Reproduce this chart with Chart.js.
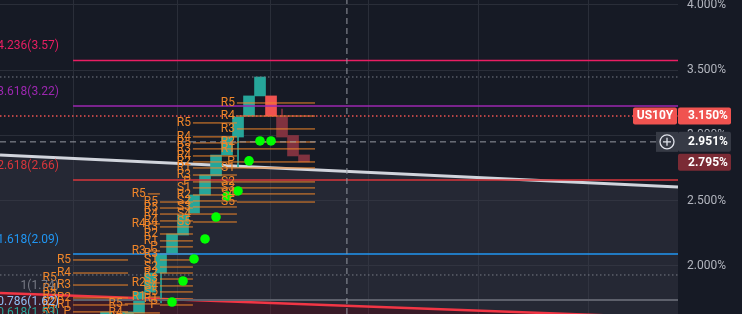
<!DOCTYPE html>
<html>
<head>
<meta charset="utf-8">
<script src="https://cdn.jsdelivr.net/npm/chart.js@4.4.1/dist/chart.umd.min.js"></script>
<style>
  html, body { margin: 0; padding: 0; background: #161a25; }
  #wrap { width: 742px; height: 314px; position: relative; }
</style>
</head>
<body>
<div id="wrap"><canvas id="chart"></canvas></div>
<script>
// bricks, x = bar number, values in %
const candleIndex = [0, 1, 2, 3, 4, 5, 6, 7, 8, 9, 10, 11, 12, 13, 14, 15, 16, 17, 18];
const candleOpen = [1.5, 1.47, 1.5, 1.64, 1.8, 1.946, 2.1, 2.237, 2.406, 2.544, 2.69, 2.85, 2.988, 3.149, 3.303, 3.303, 3.142, 3.0, 2.851];
const candleClose = [1.647, 1.62, 1.648, 1.8, 1.946, 2.092, 2.245, 2.39, 2.544, 2.697, 2.85, 2.988, 3.142, 3.303, 3.448, 3.149, 2.988, 2.843, 2.797];
const candleKind = ['up', 'up', 'up', 'up', 'up', 'up', 'up', 'up', 'up', 'up', 'up', 'up', 'up', 'up', 'up', 'down', 'fade', 'fade', 'fade'];

const wickIndex = [5, 12, 16];
const wickLow = [1.716, 2.759, 3.142];
const wickHigh = [1.946, 2.988, 3.203];

const dotIndex = [6, 7, 8, 9, 10, 11, 12, 13, 14, 15];
const dotValues = [1.724, 1.885, 2.054, 2.207, 2.375, 2.536, 2.575, 2.805, 2.958, 2.958];

const fibLabels = ['4.236(3.57)', '3.618(3.22)', '2.618(2.66)', '1.618(2.09)', '1(1.74)', '0.786(1.62)', '0.618(1.53)'];
const fibPrices = [3.575, 3.225, 2.659, 2.092, 1.739, 1.62, 1.53];
const fibColors = ['#e91e63', '#9c27b0', '#d8363c', '#2196f3', '#5d606b', '#8fc1f5', '#26a69a'];
const fibStart = -3;

const pivotNames = ['R5', 'R4', 'R3', 'R2', 'R1', 'P', 'S1', 'S2', 'S3', 'S4', 'S5'];
const pivotStart = [11.9, 7.9, 7.9, 4.9, 4.9, 3.8, -3.0, -4.3, 1.7];
const pivotEnd = [19.0, 11.9, 11.9, 7.9, 7.9, 4.9, 2.0, -4.3, 4.9];
const pivotLevels = [
  [3.249, 3.149, 3.05, 2.95, 2.897, 2.797, 2.751, 2.644, 2.598, 2.552, 2.49],
  [3.096, 2.989, 2.897, 2.797, 2.751, 2.644, 2.598, 2.498, 2.452, 2.398, 2.337],
  [2.943, 2.843, 2.697, 2.544],
  [2.49, 2.398, 2.299, 2.245, 2.192, 2.146, 2.046, 1.992, 1.9, 1.847, 1.801],
  [2.444, 2.345, 2.092, 1.946, 1.747, 1.701],
  [2.552, 2.322, 2.115, 1.87, 1.762],
  [2.046, 1.946, 1.854, 1.755, 1.701, 1.648],
  [1.908, 1.824, 1.77, 1.716, 1.663],
  [1.709, 1.64],
];

const trendUpper = [2.851, 2.605];
const trendLower = [1.793, 1.6015];
const highMark = 3.448;
const lowMark = 1.931;
const lastPrice = 3.15;
const cursorPrice = 2.951;
const projPrice = 2.795;
const cursorBar = 21.9;

const yTicks = [2.0, 2.5, 3.0, 3.5, 4.0];
const timeGrid = [-8, 2, 11, 18.9, 28.9, 38.9, 48.9];
const xMin = -9.64;
const xMax = 52;
const yMin = 1.632;
const yMax = 4.038;

const kindColor = { up: '#26a69a', down: '#ef5350', fade: '#80323f' };
const pivotColor = '#f0862a';

function hLine(from, to, value, color, width, dash, order) {
  return {
    type: 'line',
    data: [{ x: from, y: value }, { x: to, y: value }],
    borderColor: color,
    borderWidth: width,
    borderDash: dash || [],
    pointRadius: 0,
    fill: false,
    order,
  };
}

const datasets = [];

datasets.push({
  type: 'line',
  data: [{ x: xMin, y: trendUpper[0] }, { x: xMax, y: trendUpper[1] }],
  borderColor: '#d1d4dc',
  borderWidth: 3,
  pointRadius: 0,
  fill: '+1',
  backgroundColor: 'rgba(60, 62, 74, 0.4)',
  order: 50,
});
datasets.push({
  type: 'line',
  data: [{ x: xMin, y: trendLower[0] }, { x: xMax, y: trendLower[1] }],
  borderColor: '#f23645',
  borderWidth: 2.5,
  pointRadius: 0,
  fill: 'start',
  backgroundColor: 'rgba(130, 30, 50, 0.33)',
  order: 49,
});

datasets.push({
  type: 'bar',
  data: candleIndex.map((k, i) => ({ x: k, y: [candleOpen[i], candleClose[i]] })),
  backgroundColor: candleKind.map((k) => kindColor[k]),
  barThickness: 11,
  grouped: false,
  order: 40,
});
datasets.push({
  type: 'bar',
  data: wickIndex.map((k, i) => ({ x: k, y: [wickLow[i], wickHigh[i]] })),
  backgroundColor: wickIndex.map((k) => kindColor[candleKind[k]]),
  barThickness: 1,
  grouped: false,
  order: 41,
});

pivotLevels.forEach((levels, g) => {
  levels.forEach((v) => {
    datasets.push(hLine(pivotStart[g], pivotEnd[g], v, pivotColor, 1, null, 30));
  });
});

fibPrices.forEach((v, i) => {
  datasets.push(hLine(fibStart, xMax, v, fibColors[i], i === 4 ? 2 : 1.5, null, 20));
});

datasets.push(hLine(xMin, xMax, highMark, '#787b86', 1, [1.5, 2.5], 15));
datasets.push(hLine(xMin, xMax, lowMark, '#787b86', 1, [1.5, 2.5], 15));
datasets.push(hLine(xMin, xMax, lastPrice, '#f05350', 1.5, [1.5, 2.5], 15));
datasets.push(hLine(xMin, xMax, cursorPrice, '#9598a1', 1, [6, 4], 15));
datasets.push({
  type: 'line',
  data: [{ x: cursorBar, y: yMin }, { x: cursorBar, y: yMax }],
  borderColor: '#9598a1',
  borderWidth: 1,
  borderDash: [6, 4],
  pointRadius: 0,
  order: 15,
});

datasets.push({
  type: 'line',
  data: dotIndex.map((k, i) => ({ x: k, y: dotValues[i] })),
  showLine: false,
  pointRadius: 4.8,
  pointBackgroundColor: '#00ff00',
  pointBorderWidth: 0,
  order: 10,
});

function tag(ctx, x0, w, yc, h, bg, text, align) {
  ctx.fillStyle = bg;
  ctx.beginPath();
  ctx.roundRect(x0, yc - h / 2, w, h, 2);
  ctx.fill();
  ctx.fillStyle = '#ffffff';
  ctx.font = 'bold 12px Roboto';
  ctx.textBaseline = 'middle';
  ctx.textAlign = align;
  ctx.fillText(text, align === 'center' ? x0 + w / 2 : x0 + 10, yc + 0.5);
}

const overlay = {
  id: 'overlay',
  afterDatasetsDraw(chart) {
    const { ctx, scales: { x, y } } = chart;
    ctx.save();
    ctx.textAlign = 'right';
    ctx.textBaseline = 'middle';

    ctx.font = '12px Roboto';
    ctx.fillStyle = pivotColor;
    pivotLevels.forEach((levels, g) => {
      const px = x.getPixelForValue(pivotStart[g]) - 2;
      levels.forEach((v, i) => ctx.fillText(pivotNames[i], px, y.getPixelForValue(v)));
    });

    ctx.font = '12px Roboto';
    fibPrices.forEach((v, i) => {
      ctx.fillStyle = i === 4 ? '#787b86' : fibColors[i];
      ctx.fillText(fibLabels[i], x.getPixelForValue(fibStart) - 14, y.getPixelForValue(v) - 14);
    });
    ctx.restore();
  },
  afterDraw(chart) {
    const { ctx, chartArea, scales: { y } } = chart;
    const right = chartArea.right;
    ctx.save();
    tag(ctx, right - 45, 44, y.getPixelForValue(lastPrice), 17, '#f05350', 'US10Y', 'center');
    tag(ctx, right, 53, y.getPixelForValue(lastPrice), 17, '#f05350', lastPrice.toFixed(3) + '%', 'left');
    tag(ctx, right, 53, y.getPixelForValue(cursorPrice), 20, '#363a45', cursorPrice.toFixed(3) + '%', 'left');
    tag(ctx, right, 53, y.getPixelForValue(projPrice), 17, '#7b2b35', projPrice.toFixed(3) + '%', 'left');

    // crosshair "+" button
    const cy = y.getPixelForValue(cursorPrice);
    ctx.fillStyle = '#363a45';
    ctx.fillRect(right - 22, cy - 10, 22, 20);
    ctx.strokeStyle = '#e0e3eb';
    ctx.lineWidth = 1.3;
    ctx.beginPath();
    ctx.arc(right - 11, cy, 7, 0, Math.PI * 2);
    ctx.moveTo(right - 15, cy);
    ctx.lineTo(right - 7, cy);
    ctx.moveTo(right - 11, cy - 4);
    ctx.lineTo(right - 11, cy + 4);
    ctx.stroke();
    ctx.restore();
  },
};

Chart.defaults.font.family = 'Roboto';

new Chart(document.getElementById('chart'), {
  type: 'bar',
  data: { datasets },
  options: {
    responsive: true,
    maintainAspectRatio: false,
    animation: false,
    events: [],
    layout: { padding: 0, autoPadding: false },
    plugins: { legend: { display: false }, tooltip: { enabled: false } },
    scales: {
      x: {
        type: 'linear',
        min: xMin,
        max: xMax,
        offset: false,
        afterBuildTicks: (scale) => { scale.ticks = timeGrid.map((v) => ({ value: v })); },
        afterFit: (scale) => {
          scale.height = 0;
          scale.paddingLeft = 0;
          scale.paddingRight = 0;
          scale.paddingTop = 0;
          scale.paddingBottom = 0;
        },
        ticks: { display: false },
        grid: { color: '#2a2e39', drawTicks: false },
        border: { display: false },
      },
      y: {
        position: 'right',
        min: yMin,
        max: yMax,
        afterBuildTicks: (scale) => { scale.ticks = yTicks.map((v) => ({ value: v })); },
        afterFit: (scale) => {
          scale.width = 64;
          scale.paddingTop = 0;
          scale.paddingBottom = 0;
        },
        ticks: {
          color: '#b2b5be',
          font: { size: 12 },
          padding: 9,
          callback: (v) => Number(v).toFixed(3) + '%',
        },
        grid: { color: '#2a2e39', drawTicks: false },
        border: { display: false },
      },
    },
  },
  plugins: [overlay],
});
</script>
</body>
</html>
